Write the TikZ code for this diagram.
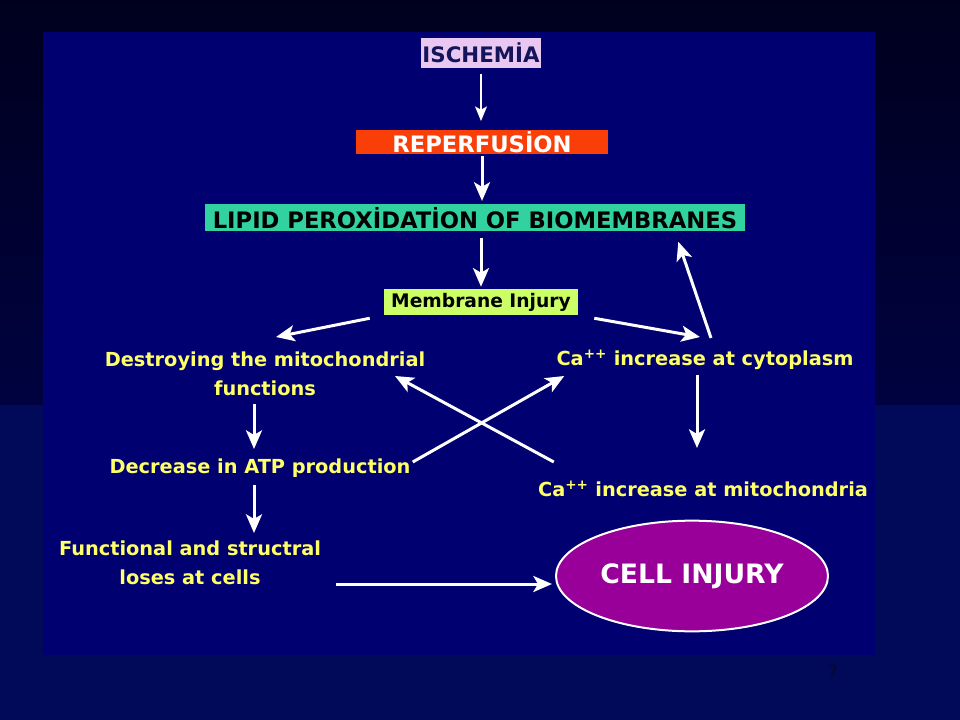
\documentclass[tikz,border=0pt]{standalone}
\usepackage{fontspec}
\setmainfont{DejaVu Sans}
\usetikzlibrary{arrows.meta,shapes.geometric}
\definecolor{bgtop}{RGB}{0,0,30}
\definecolor{bgmid}{RGB}{0,2,64}
\definecolor{bglow}{RGB}{0,10,88}
\definecolor{panelblue}{RGB}{0,0,112}
\definecolor{ischpink}{RGB}{232,200,240}
\definecolor{ischtext}{RGB}{20,20,90}
\definecolor{reperfred}{RGB}{250,62,8}
\definecolor{lipidgreen}{RGB}{50,210,160}
\definecolor{membranelime}{RGB}{204,255,102}
\definecolor{cellpurple}{RGB}{153,0,153}
\definecolor{textyellow}{RGB}{255,255,102}
\definecolor{pagegray}{RGB}{8,8,40}

\begin{document}
\begin{tikzpicture}[x=0.75pt,y=0.75pt,yscale=-1,xscale=1,
    labelbox/.style={inner xsep=0pt, inner ysep=0pt, font=\bfseries\fontsize{17}{20}\selectfont},
    yellowtext/.style={text=textyellow, inner sep=0pt, align=center, font=\bfseries\fontsize{14.5}{21.75}\selectfont},
    fatarrow/.style={draw=white, line width=2.25pt, -{Stealth[length=14pt,width=12pt,inset=3.5pt]}},
    thinarrow/.style={draw=white, line width=1.1pt, -{Stealth[length=11pt,width=9pt,inset=2.5pt]}}]
    %Shape: Background
    \fill[top color=bgtop, bottom color=bgmid] (0,0) rectangle (960,405);
    \fill[bglow] (0,405) rectangle (960,720);
    %Shape: Panel
    \fill[panelblue] (43,32) rectangle (875,655);

    % Label Boxes
    \node[labelbox, fill=ischpink, text=ischtext, minimum width=90pt, minimum height=22.5pt, font=\bfseries\fontsize{16}{19}\selectfont] (ischemia) at (481,53) {ISCHEMİA};
    \node[labelbox, fill=reperfred, text=white, minimum width=189pt, minimum height=18pt] (reperf) at (482,142) {REPERFUSİON};
    \node[labelbox, fill=lipidgreen, text=black, minimum width=405pt, minimum height=20.25pt] (lipid) at (475,218) {LIPID PEROXİDATİON OF BIOMEMBRANES};
    \node[labelbox, fill=membranelime, text=black, minimum width=145.5pt, minimum height=19.5pt, font=\bfseries\fontsize{14}{17}\selectfont] (membrane) at (481,302) {Membrane Injury};

    % Text Node
    \node[yellowtext] (destroy) at (265,374) {Destroying the mitochondrial\\functions};
    \node[yellowtext] (cacyto) at (705,360) {Ca\textsuperscript{++} increase at cytoplasm};
    \node[yellowtext] (atp) at (260,468) {Decrease in ATP production};
    \node[yellowtext] (camito) at (703,489) {Ca\textsuperscript{++} increase at mitochondria};
    \node[yellowtext] (losses) at (190,563) {Functional and structral\\loses at cells};
    % Ellipse
    \node[ellipse, draw=white, line width=1.5pt, fill=cellpurple, minimum width=204pt, minimum height=83pt, text=white, font=\bfseries\fontsize{20}{24}\selectfont] (cell) at (692,576) {CELL INJURY};
    \node[text=pagegray, font=\fontsize{12}{14}\selectfont] (pagenum) at (833,672) {7};

    %Straight Lines
    \draw[thinarrow, shorten <=4.5pt, shorten >=6.5pt] (ischemia.south) -- (ischemia.south |- reperf.north);
    \draw[fatarrow, shorten <=1.5pt, shorten >=2.5pt] (reperf.south) -- (reperf.south |- lipid.north);
    \draw[fatarrow, shorten <=4.5pt, shorten >=1.5pt] (membrane.north |- lipid.south) -- (membrane.north);
    \draw[fatarrow] ([shift={(-14,3)}]membrane.south west) -- ([shift={(11,-37)}]destroy.center);
    \draw[fatarrow] ([shift={(16,3)}]membrane.south east) -- ([shift={(-5,-23)}]cacyto.center);
    \draw[fatarrow] ([shift={(6,-22)}]cacyto.center) -- ([shift={(-67,10)}]lipid.south east);
    \draw[fatarrow] ([shift={(-8,15)}]cacyto.center) -- ([shift={(-6,-41)}]camito.center);
    \draw[fatarrow] ([shift={(-11,30)}]destroy.center) -- ([shift={(-6,-19)}]atp.center);
    \draw[fatarrow] ([shift={(-6,17)}]atp.center) -- ([shift={(64,-30)}]losses.center);
    \draw[fatarrow] ([shift={(2,-6)}]atp.east) -- ([shift={(8,16)}]cacyto.west);
    \draw[fatarrow] ([shift={(16,-27)}]camito.west) -- ([shift={(130,2)}]destroy.center);
    \draw[fatarrow] ([shift={(146,21)}]losses.center) -- ([shift={(-3,8)}]cell.west);

\end{tikzpicture}
\end{document}
